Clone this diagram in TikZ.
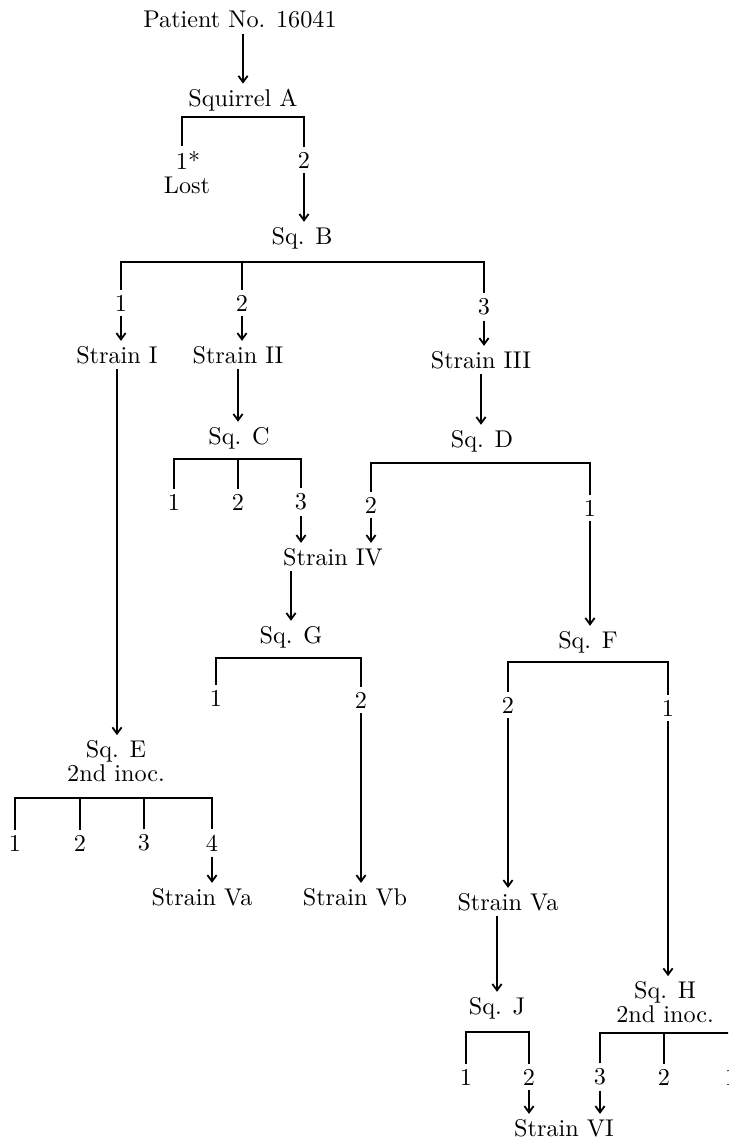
\documentclass[tikz,border=0pt]{standalone}
\usetikzlibrary{arrows.meta}
\begin{document}
\begin{tikzpicture}[x=0.4132pt,y=-0.4132pt,
  every node/.style={inner sep=2pt, font=\fontsize{10}{10}\selectfont},
  two/.style={align=center, font=\fontsize{10}{9.8}\selectfont},
  ln/.style={line width=0.75pt},
  arr/.style={line width=0.75pt, -{Straight Barb[length=2.6pt,width=3.8pt]}}]
\useasboundingbox (0,0) rectangle (728,1143);
\clip (0,0) rectangle (728,1143);

% nodes
\node (P)   at (240,20)  {Patient No. 16041};
\node (SA)  at (243,100) {Squirrel A};
\node (A1)  at (182,160) {1\rlap{*}};
\node (Lost) at (187,185) {Lost};
\node (A2)  at (304,160) {2};
\node (SB)  at (302,238) {Sq. B};
\node (B1)  at (121,303) {1};
\node (B2)  at (242,303) {2};
\node (B3)  at (484,307) {3};
\node (SI)  at (117,355) {Strain I};
\node (SII) at (238,355) {Strain II};
\node (SIII) at (481,360) {Strain III};
\node (SC)  at (239,438) {Sq. C};
\node (SD)  at (482,441) {Sq. D};
\node (C1)  at (174,502) {1};
\node (C2)  at (238,502) {2};
\node (C3)  at (301,502) {3};
\node (D2)  at (371,505) {2};
\node (D1)  at (590,508) {1};
\node (SIV) at (333,557) {Strain IV};
\node (SG)  at (291,637) {Sq. G};
\node (SF)  at (588,642) {Sq. F};
\node (G1)  at (216,698) {1};
\node (G2)  at (361,700) {2};
\node (F2)  at (508,705) {2};
\node (F1)  at (668,708) {1};
\node[two] (SE) at (116,761) {Sq. E\\2nd inoc.};
\node (E1)  at (15,843)  {1};
\node (E2)  at (80,843)  {2};
\node (E3)  at (144,843) {3};
\node (E4)  at (212,843) {4};
\node (SVa1) at (202,897) {Strain Va};
\node (SVb) at (355,897) {Strain Vb};
\node (SVa2) at (508,902) {Strain Va};
\node[two] (SH) at (665,1002) {Sq. H\\2nd inoc.};
\node (SJ)  at (497,1008) {Sq. J};
\node (J1)  at (466,1077) {1};
\node (J2)  at (529,1077) {2};
\node (H3)  at (600,1077) {3};
\node (H2)  at (664,1077) {2};
\node (H1)  at (731,1077) {1};
\node (SVI) at (564,1128) {Strain VI};

% bar levels
\coordinate (barA) at (243,117);
\coordinate (barB) at (302,262);
\coordinate (barC) at (239,459);
\coordinate (barD) at (482,463);
\coordinate (barG) at (291,658);
\coordinate (barF) at (588,662);
\coordinate (barE) at (116,798);
\coordinate (barJ) at (497,1032);
\coordinate (barH) at (665,1033);

% connectors
\draw[arr] (SA.north |- P.south) -- (SA.north);
\draw[ln] (A1.north) -- (A1.north |- barA) -- (A2.north |- barA) -- (A2.north);
\draw[arr] (A2.south) -- (A2.south |- SB.north);

\draw[ln] (B1.north) -- (B1.north |- barB) -- (B3.north |- barB) -- (B3.north);
\draw[ln] (B2.north) -- (B2.north |- barB);
\draw[arr] (B1.south) -- (B1.south |- SI.north);
\draw[arr] (B2.south) -- (B2.south |- SII.north);
\draw[arr] (B3.south) -- (B3.south |- SIII.north);

\draw[arr] (SII.south) -- (SII.south |- SC.north);
\draw[arr] (SIII.south) -- (SIII.south |- SD.north);

\draw[ln] (C1.north) -- (C1.north |- barC) -- (C3.north |- barC) -- (C3.north);
\draw[ln] (C2.north) -- (C2.north |- barC);
\draw[ln] (D2.north) -- (D2.north |- barD) -- (D1.north |- barD) -- (D1.north);
\draw[arr] (C3.south) -- (C3.south |- SIV.north);
\draw[arr] (D2.south) -- (D2.south |- SIV.north);

\draw[arr] (SG.north |- SIV.south) -- (SG.north);
\draw[arr] (D1.south) -- (D1.south |- SF.north);

\draw[ln] (G1.north) -- (G1.north |- barG) -- (G2.north |- barG) -- (G2.north);
\draw[ln] (F2.north) -- (F2.north |- barF) -- (F1.north |- barF) -- (F1.north);

\draw[arr] (SI.south) -- (SI.south |- SE.north);
\draw[ln] (E1.north) -- (E1.north |- barE) -- (E4.north |- barE) -- (E4.north);
\draw[ln] (E2.north) -- (E2.north |- barE);
\draw[ln] (E3.north) -- (E3.north |- barE);
\draw[arr] (E4.south) -- (E4.south |- SVa1.north);

\draw[arr] (G2.south) -- (G2.south |- SVb.north);
\draw[arr] (F2.south) -- (F2.south |- SVa2.north);
\draw[arr] (F1.south) -- (F1.south |- SH.north);
\draw[arr] (SJ.north |- SVa2.south) -- (SJ.north);

\draw[ln] (J1.north) -- (J1.north |- barJ) -- (J2.north |- barJ) -- (J2.north);
\draw[ln] (H3.north) -- (H3.north |- barH) -- (H1.north |- barH) -- (H1.north);
\draw[ln] (H2.north) -- (H2.north |- barH);
\draw[arr] (J2.south) -- (J2.south |- SVI.north);
\draw[arr] (H3.south) -- (H3.south |- SVI.north);
\end{tikzpicture}
\end{document}
